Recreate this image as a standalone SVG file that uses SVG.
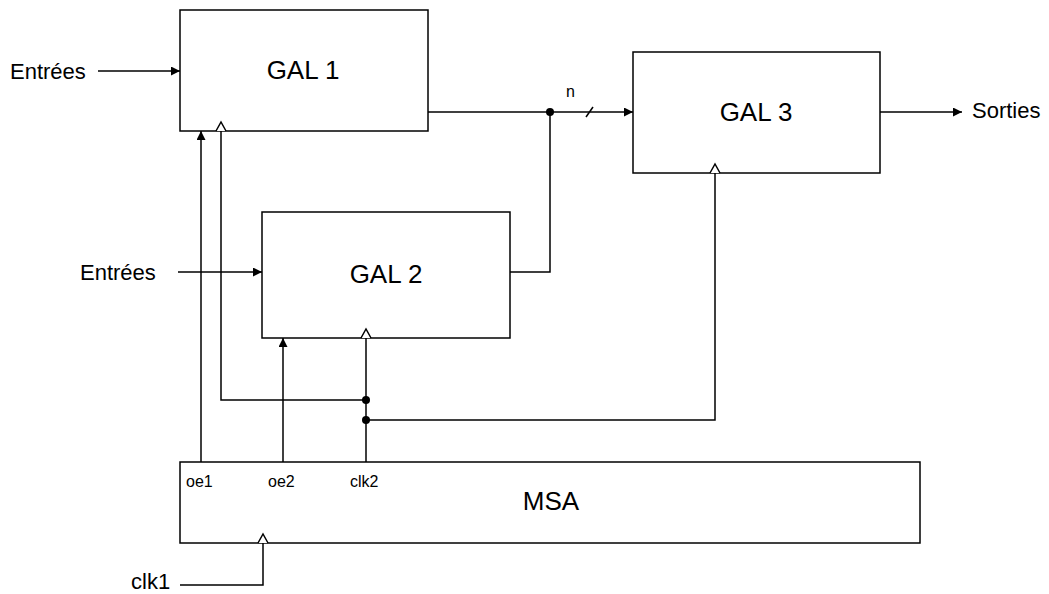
<svg xmlns="http://www.w3.org/2000/svg" width="1049" height="594" viewBox="0 0 1049 594">
<style>
.box{fill:#fff;stroke:#000;stroke-width:1.5}
.w{fill:none;stroke:#000;stroke-width:1.5}
.big{font-family:"Liberation Sans",Arial,sans-serif;font-size:26px;text-anchor:middle}
.lbl{font-family:"Liberation Sans",Arial,sans-serif;font-size:22px}
.sm{font-family:"Liberation Sans",Arial,sans-serif;font-size:16px}
</style>
<defs>
<marker id="fa" viewBox="0 0 10 10" refX="10" refY="5" markerWidth="10" markerHeight="9" markerUnits="userSpaceOnUse" orient="auto"><path d="M0,0 L10,5 L0,10 Z" fill="#000"/></marker>
</defs>
<g id="gal1"><rect class="box" x="180" y="10" width="248" height="121"/><text class="big" x="303" y="79">GAL 1</text></g>
<g id="gal2"><rect class="box" x="262" y="212" width="248" height="126"/><text class="big" x="386" y="283">GAL 2</text></g>
<g id="gal3"><rect class="box" x="633" y="52" width="247" height="121"/><text class="big" x="756" y="121">GAL 3</text></g>
<g id="msa"><rect class="box" x="180" y="462" width="740" height="81"/><text class="big" x="551" y="510">MSA</text>
<text class="sm" x="186" y="487">oe1</text><text class="sm" x="268" y="487">oe2</text><text class="sm" x="350" y="487">clk2</text></g>
<g id="labels">
<text class="lbl" x="10" y="79">Entrées</text>
<text class="lbl" x="80" y="280">Entrées</text>
<text class="lbl" x="972" y="118">Sorties</text>
<text class="lbl" x="131" y="589">clk1</text>
<text class="sm" x="566" y="97">n</text>
</g>
<g id="connectors">
<path class="w" d="M98,71 H180" marker-end="url(#fa)"/>
<path class="w" d="M178,272 H262" marker-end="url(#fa)"/>
<path class="w" d="M428,112 H633" marker-end="url(#fa)"/>
<path class="w" d="M880,112 H962" marker-end="url(#fa)"/>
<path class="w" d="M510,272 H550 V112"/>
<path class="w" d="M586,117 L593,107"/>
<path class="w" d="M201,462 V131" marker-end="url(#fa)"/>
<path class="w" d="M283,462 V338" marker-end="url(#fa)"/>
<path class="w" d="M366,462 V338"/>
<path class="w" d="M221,131 V400 H366"/>
<path class="w" d="M366,420 H715 V173"/>
<path class="w" d="M180,585 H263 V543"/>
<path class="w" d="M216,131 L221,122 L226,131" style="fill:#fff"/>
<path class="w" d="M361,338 L366,329 L371,338" style="fill:#fff"/>
<path class="w" d="M710,173 L715,164 L720,173" style="fill:#fff"/>
<path class="w" d="M258,543 L263,534 L268,543" style="fill:#fff"/>
<circle cx="550" cy="112" r="4"/>
<circle cx="366" cy="400" r="4"/>
<circle cx="366" cy="420" r="4"/>
</g>
</svg>
